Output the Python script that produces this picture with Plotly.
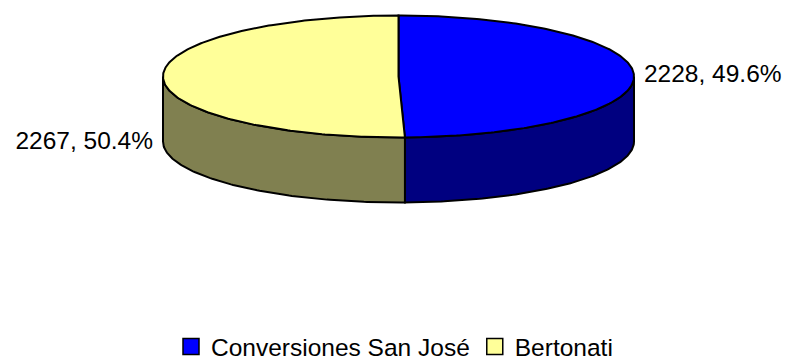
import numpy as np
import plotly.graph_objects as go

# ---- data ----
categories = ["Conversiones San José", "Bertonati"]
values = [2228, 2267]

# ---- style ----
top_colors = ["#0000FF", "#FFFF99"]
side_colors = ["#000080", "#808050"]
W, H = 789, 363
cx, cy = 398.5, 76.5      # centre of top ellipse (px)
rx, ry = 235.5, 61.0      # radii of top ellipse (px)
depth = 65.0              # thickness of the pie (px)
label_side_dy = [0, 66]   # extra vertical offset of each data label (px)
label_gap = 10
font_family = "Arial, 'Liberation Sans', sans-serif"
font_size = 24.5

def pt(theta_deg, dz=0.0):
    t = np.radians(theta_deg)
    return cx + rx * np.sin(t), cy - ry * np.cos(t) + dz

total = float(sum(values))
fracs = [v / total for v in values]
starts = np.concatenate([[0.0], np.cumsum(fracs)[:-1]]) * 360.0
ends = np.cumsum(fracs) * 360.0

fig = go.Figure()

# side walls (visible front half: 90..270 deg clockwise from top)
for i, (a0, a1) in enumerate(zip(starts, ends)):
    s0, s1 = max(a0, 90.0), min(a1, 270.0)
    if s1 <= s0:
        continue
    th = np.linspace(s0, s1, 120)
    xt, yt = pt(th)
    xb, yb = pt(th[::-1], depth)
    xs = np.concatenate([xt, xb, [xt[0]]])
    ys = np.concatenate([yt, yb, [yt[0]]])
    fig.add_trace(go.Scatter(x=xs, y=ys, mode="lines", fill="toself",
                             fillcolor=side_colors[i],
                             line=dict(color="black", width=2),
                             hoverinfo="skip", showlegend=False))

# top faces
for i, (a0, a1) in enumerate(zip(starts, ends)):
    th = np.linspace(a0, a1, 240)
    xe, ye = pt(th)
    xs = np.concatenate([[cx], xe, [cx]])
    ys = np.concatenate([[cy], ye, [cy]])
    fig.add_trace(go.Scatter(x=xs, y=ys, mode="lines", fill="toself",
                             fillcolor=top_colors[i],
                             line=dict(color="black", width=2),
                             hoverinfo="skip", showlegend=False))

# data labels
for i, (a0, a1) in enumerate(zip(starts, ends)):
    mid = (a0 + a1) / 2.0
    x, y = pt(mid)
    right = np.sin(np.radians(mid)) >= 0
    x = x + (label_gap if right else -label_gap)
    y = y + label_side_dy[i]
    txt = f"{values[i]}, {fracs[i]*100:.1f}%"
    fig.add_trace(go.Scatter(x=[x], y=[y], mode="text", text=[txt],
                             textposition="middle right" if right else "middle left",
                             textfont=dict(family=font_family, size=font_size, color="black"),
                             hoverinfo="skip", showlegend=False))

# legend entries
for i, name in enumerate(categories):
    fig.add_trace(go.Scatter(x=[None], y=[None], mode="markers", name=name,
                             marker=dict(symbol="square", size=16, color=top_colors[i],
                                         line=dict(color="black", width=1.5))))

fig.update_layout(
    width=W, height=H,
    margin=dict(l=0, r=0, t=0, b=0, autoexpand=False),
    paper_bgcolor="white", plot_bgcolor="white",
    xaxis=dict(range=[0, W], visible=False, fixedrange=True),
    yaxis=dict(range=[H, 0], visible=False, fixedrange=True),
    showlegend=True,
    legend=dict(orientation="h", x=0.5, xanchor="center",
                y=1 - 324 / H, yanchor="top",
                font=dict(family=font_family, size=font_size, color="black"),
                itemwidth=30, tracegroupgap=0, bgcolor="rgba(0,0,0,0)"),
)

fig.write_html("out.html")
